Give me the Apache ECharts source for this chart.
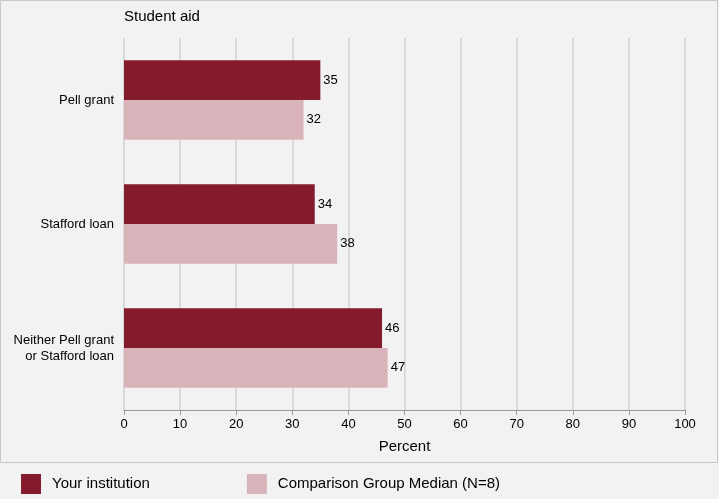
<!DOCTYPE html>
<html><head><meta charset="utf-8">
<script src="https://cdn.jsdelivr.net/npm/echarts@6/dist/echarts.min.js"></script>
<style>html,body{margin:0;padding:0;background:#f2f2f2}#c{width:719px;height:499px}</style>
</head><body><div id="c"></div>
<script>
const categories = ["Pell grant", "Stafford loan", "Neither Pell grant\nor Stafford loan"];
const yourInstitution = [35, 34, 46];
const comparisonMedian = [32, 38, 47];
const xTicks = [0,10,20,30,40,50,60,70,80,90,100];

const chart = echarts.init(document.getElementById('c'));
const lbl = {show:true, position:'right', color:'#000', fontFamily:'Liberation Sans', fontSize:13, distance:3};
chart.setOption({
  backgroundColor:'#f2f2f2',
  animation:false,
  graphic:[
    {type:'rect', shape:{x:0.5,y:0.5,width:717,height:462}, style:{fill:'none', stroke:'#c8c8c8', lineWidth:1}},
    {type:'text', left:124, top:9, style:{text:'Student aid', font:'15px Liberation Sans', fill:'#000'}}
  ],
  legend:{bottom:0, left:16, itemGap:97, itemWidth:20, itemHeight:20, icon:'rect',
    textStyle:{fontFamily:'Liberation Sans', fontSize:15, color:'#000', padding:[0,0,0,6]}},
  grid:{left:124, right:34, top:38, bottom:89},
  xAxis:{type:'value', min:0, max:100, interval:10, name:'Percent', nameLocation:'middle', nameGap:29,
    nameTextStyle:{fontFamily:'Liberation Sans', fontSize:15, color:'#000'},
    axisLabel:{fontFamily:'Liberation Sans', fontSize:13, color:'#000', formatter:v=>xTicks.includes(v)?String(v):''},
    axisLine:{show:true, lineStyle:{color:'#999'}}, axisTick:{show:true, lineStyle:{color:'#999'}},
    splitLine:{lineStyle:{color:'#d9d9d9', width:2}}},
  yAxis:{type:'category', data:categories, inverse:true,
    axisLabel:{fontFamily:'Liberation Sans', fontSize:13, color:'#000', margin:10, lineHeight:16},
    axisLine:{show:false}, axisTick:{show:false}},
  series:[
    {name:'Your institution', type:'bar', data:yourInstitution, itemStyle:{color:'#841b2d'}, label:lbl, barGap:'0%', barCategoryGap:'36%'},
    {name:'Comparison Group Median (N=8)', type:'bar', data:comparisonMedian, itemStyle:{color:'#d8b4ba'}, label:lbl}
  ]
});
</script></body></html>
